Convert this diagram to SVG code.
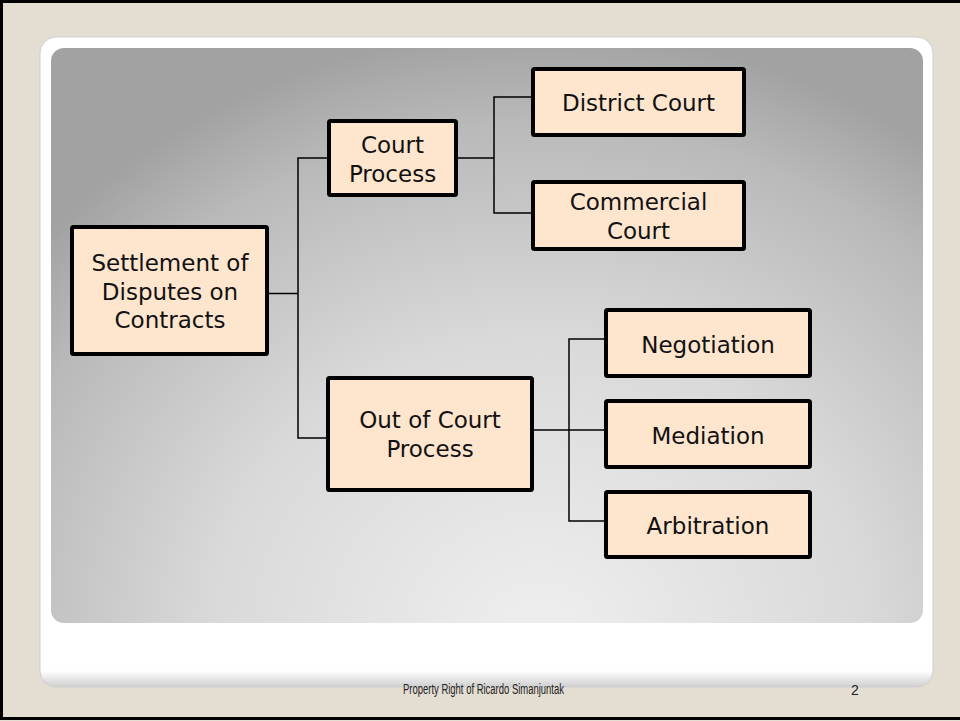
<svg xmlns="http://www.w3.org/2000/svg" width="960" height="721" viewBox="0 0 960 721">
<defs>
<style>
.box{fill:#FDE5CE;stroke:#000;stroke-width:4;}
.lbl{font-family:"DejaVu Sans",Verdana,sans-serif;font-size:23px;fill:#111;text-anchor:middle;}
.conn{fill:none;stroke:#000;stroke-width:1.5;}
.foot{font-family:"Liberation Sans Narrow","Liberation Sans",sans-serif;font-size:14px;fill:#222;}
</style>
<linearGradient id="panelG" gradientUnits="userSpaceOnUse" x1="0" y1="37" x2="0" y2="687">
<stop offset="0" stop-color="#ffffff"/>
<stop offset="0.975" stop-color="#ffffff"/>
<stop offset="1" stop-color="#cfcfcf"/>
</linearGradient>
<radialGradient id="grayG" gradientUnits="userSpaceOnUse" cx="0" cy="0" r="1" gradientTransform="translate(540 640) scale(660 610)">
<stop offset="0" stop-color="#efefef"/>
<stop offset="0.5" stop-color="#d9d9d9"/>
<stop offset="0.85" stop-color="#b9b9b9"/>
<stop offset="1.0" stop-color="#a2a2a2"/>
</radialGradient>
</defs>
<rect x="0" y="0" width="960" height="721" fill="#E3DDD2"/>
<rect x="1.5" y="1.5" width="962" height="717" fill="none" stroke="#000" stroke-width="3"/>
<rect x="40" y="37" width="893" height="650" rx="16" fill="url(#panelG)" stroke="#cfcfcf" stroke-width="1"/>
<rect x="51" y="48" width="872" height="575" rx="13" fill="url(#grayG)"/>

<g id="connectors">
<polyline class="conn" points="269,293.5 298,293.5"/>
<polyline class="conn" points="327,158 298,158 298,438 326,438"/>
<polyline class="conn" points="458,158 494,158"/>
<polyline class="conn" points="531,97 494,97 494,213 531,213"/>
<polyline class="conn" points="534,430 604,430"/>
<polyline class="conn" points="604,339 569,339 569,521 604,521"/>
</g>

<g id="node-settlement">
<rect class="box" x="72" y="227" width="195" height="127" rx="1.5"/>
<text class="lbl" x="170" y="271">Settlement of</text>
<text class="lbl" x="170" y="300">Disputes on</text>
<text class="lbl" x="170" y="328">Contracts</text>
</g>
<g id="node-court-process">
<rect class="box" x="329" y="121" width="127" height="74" rx="1.5"/>
<text class="lbl" x="392.5" y="153">Court</text>
<text class="lbl" x="392.5" y="182">Process</text>
</g>
<g id="node-district-court">
<rect class="box" x="533" y="69" width="211" height="66" rx="1.5"/>
<text class="lbl" x="638.5" y="111">District Court</text>
</g>
<g id="node-commercial-court">
<rect class="box" x="533" y="182" width="211" height="67" rx="1.5"/>
<text class="lbl" x="638.5" y="210">Commercial</text>
<text class="lbl" x="638.5" y="239">Court</text>
</g>
<g id="node-out-of-court">
<rect class="box" x="328" y="378" width="204" height="112" rx="1.5"/>
<text class="lbl" x="430" y="428">Out of Court</text>
<text class="lbl" x="430" y="457">Process</text>
</g>
<g id="node-negotiation">
<rect class="box" x="606" y="310" width="204" height="66" rx="1.5"/>
<text class="lbl" x="708" y="353">Negotiation</text>
</g>
<g id="node-mediation">
<rect class="box" x="606" y="401" width="204" height="66" rx="1.5"/>
<text class="lbl" x="708" y="444">Mediation</text>
</g>
<g id="node-arbitration">
<rect class="box" x="606" y="492" width="204" height="65" rx="1.5"/>
<text class="lbl" x="708" y="534">Arbitration</text>
</g>

<text class="foot" x="403" y="694" textLength="161" lengthAdjust="spacingAndGlyphs">Property Right of Ricardo Simanjuntak</text>
<text class="foot" x="851" y="695">2</text>
</svg>
